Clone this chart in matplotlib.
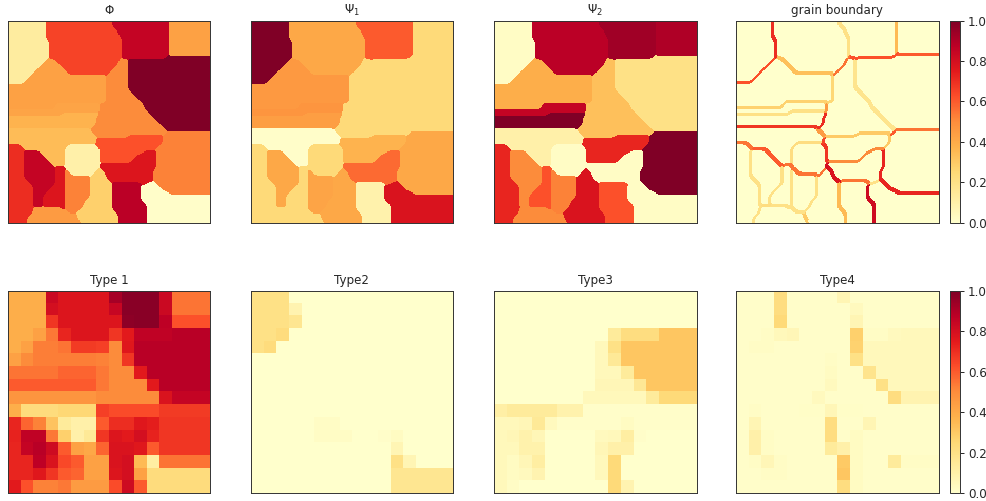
import matplotlib
matplotlib.use("Agg")
import matplotlib.pyplot as plt
import numpy as np
import re

W, H = 987, 501

grains = list("ABCDEFGHIJKLMNOPQRSTUV")
phi  = [.125,.65,.85,.43,1.0,.43,.42,.37,.34,.10,.52,.62,.77,.875,.01,.70,.85,.77,.52,.45,.28,.50]
psi1 = [1.0,.41,.60,.24,.24,.46,.47,.44,.01,.24,.41,.37,.57,.09,.78,.24,.41,.24,.42,.24,.41,.24]
psi2 = [.02,.875,.93,.90,.20,.39,.85,1.0,.10,.02,1.0,.72,.02,.62,.02,.72,.50,.62,.52,.50,.78,.33]

# grain id map, one row per line: letter + column where the run ends
grain_rows = [
"A12 B33 C51 D64","A12 B33 C51 D64","A12 B34 C51 D64","A12 B35 C51 D64","A12 B35 C51 D64","A12 B36 C51 D64",
"A13 B36 C51 D64","A13 B36 C51 D64","A13 B36 C51 D64","A13 B36 C51 D64","A13 B36 C51 D64","A13 B36 C50 E64",
"A12 F15 B35 V38 E64","A11 F16 B35 V38 E64","A10 F17 B34 V38 E64","A9 F18 B33 V38 E64","A8 F19 B32 V38 E64",
"A7 F31 V38 E64","A6 F31 V38 E64","A5 F31 V38 E64","F31 V38 E64","F31 V38 E64","F31 V39 E64","F31 V40 E64",
"F31 V41 E64","F31 V42 E64","F15 G29 V43 E64","F15 G29 V43 E64","G29 V44 E64","G17 H29 V45 E64",
"H28 V46 E64","H28 V47 E64","H28 V48 E64","H27 V49 E64","I26 V50 E64","I27 V50 K64","I28 V38 L49 K64",
"I28 L49 K64","I28 L49 K64","P4 I19 J28 L48 K64","P5 I18 J29 L47 K64",
"P5 Q10 I18 J29 L43 M47 K64","P5 Q11 I18 J29 L41 M47 K64","P5 Q12 I18 J29 L40 M47 K64",
"P5 Q13 I18 J29 L39 M47 K64","P5 Q14 I18 J29 M47 K64","P5 Q15 R18 J29 M47 K64",
"P5 Q15 R18 S19 J28 U30 M46 K64","P5 Q15 R18 S20 J27 U31 M46 K64","P5 Q15 R18 S26 U31 M46 K64",
"P6 Q15 R18 S26 U32 M46 K64","P7 Q15 R18 S26 U33 N42 M44 O47 K64","P8 Q14 R18 S26 U33 N42 O48 K64",
"P8 Q13 R18 S26 U33 N42 O49 K64","P8 Q12 R18 S26 U33 N42 O51 K64","P8 Q11 R18 S26 U33 N42 O64",
"P8 Q11 R18 S25 U33 N42 O64","P8 Q11 R18 S24 U33 N43 O64","P8 Q11 R18 S24 U33 N44 O64",
"P8 T17 R18 S23 U33 N44 O64","P8 T19 S22 U34 N44 O64","P7 T22 U35 N44 O64","P6 T22 U35 N44 O64","P6 T23 U35 N44 O64",
]

# boundary level between neighbouring grains
boundary_levels = {
"AB":.70,"AF":.62,"BC":.20,"BF":.33,"BV":.55,"CD":.35,"CE":.62,"CV":.62,"DE":.60,"EV":.18,"FV":.25,"FG":.27,
"GH":.20,"HI":.68,"GV":.45,"HV":.70,"IV":.45,"IJ":.22,"IL":.65,"JL":.68,"LV":.30,"KV":.60,"EK":.55,"KL":.30,
"LM":.50,"KM":.72,"MN":.55,"MO":.20,"MU":.78,"KO":.72,"NO":.82,"NU":.35,"IP":.55,"IQ":.60,"PQ":.20,"QR":.20,
"PT":.20,"QT":.22,"RS":.20,"RT":.20,"ST":.20,"SU":.20,"TU":.30,"IR":.55,"IS":.55,"JS":.55,"JU":.55,"JR":.55,
"JM":.80,"OU":.3,"NT":.3,"GQ":.2,
}

type1 = [
[.39,.39,.39,.83,.77,.77,.77,.77,.92,.98,.98,.98,.83,.55,.55,.55],
[.39,.39,.39,.80,.77,.77,.77,.77,.84,.98,.98,.98,.83,.55,.55,.55],
[.39,.39,.39,.68,.77,.77,.77,.77,.77,.97,.98,.98,.87,.62,.62,.62],
[.39,.39,.43,.54,.72,.77,.77,.77,.68,.75,.86,.86,.86,.88,.88,.88],
[.39,.43,.53,.53,.55,.67,.67,.66,.50,.76,.88,.88,.88,.88,.88,.88],
[.43,.50,.53,.53,.53,.53,.53,.52,.50,.68,.88,.88,.88,.88,.88,.88],
[.55,.55,.55,.55,.58,.58,.58,.54,.50,.50,.75,.88,.88,.88,.88,.88],
[.60,.60,.60,.60,.60,.60,.60,.54,.50,.50,.50,.75,.88,.88,.88,.88],
[.47,.47,.47,.47,.47,.47,.47,.50,.50,.50,.50,.50,.78,.85,.85,.85],
[.39,.23,.23,.23,.25,.25,.25,.66,.63,.63,.63,.63,.67,.67,.67,.67],
[.72,.58,.52,.32,.14,.10,.10,.60,.70,.70,.76,.74,.68,.68,.68,.68],
[.73,.86,.86,.54,.28,.10,.15,.68,.77,.75,.80,.73,.68,.68,.68,.68],
[.72,.85,.88,.82,.60,.43,.41,.58,.78,.78,.76,.60,.68,.68,.68,.68],
[.72,.72,.87,.78,.64,.60,.43,.43,.78,.80,.35,.12,.55,.55,.55,.55],
[.72,.72,.76,.68,.60,.58,.43,.43,.77,.80,.43,.23,.23,.23,.23,.23],
[.75,.62,.52,.52,.54,.45,.45,.45,.63,.82,.60,.23,.23,.23,.23,.23],
]
type2 = [
[.20,.20,.20,0,0,0,0,0,0,0,0,0,0,0,0,0],
[.20,.20,.20,.08,0,0,0,0,0,0,0,0,0,0,0,0],
[.20,.20,.20,.17,0,0,0,0,0,0,0,0,0,0,0,0],
[.20,.20,.23,0,0,0,0,0,0,0,0,0,0,0,0,0],
[.20,.23,0,0,0,0,0,0,0,0,0,0,0,0,0,0],
[0]*16,[0]*16,[0]*16,[0]*16,[0]*16,
[0,0,0,0,0,.02,.02,0,0,0,0,0,0,0,0,0],
[0,0,0,0,0,.02,.02,.02,0,0,.01,.03,0,0,0,0],
[0,0,0,0,0,0,0,0,0,0,0,.07,0,0,0,0],
[0,0,0,0,0,0,0,0,0,0,0,.20,.07,0,0,0],
[0,0,0,0,0,0,0,0,0,0,0,.17,.17,.17,.17,.17],
[0,0,0,0,0,0,0,0,0,0,0,.17,.17,.17,.17,.17],
]
type3 = [
[0]*16,[0]*16,[0]*16,
[0,0,0,0,0,0,0,0,0,.14,.22,.22,.22,.31,.31,.31],
[0,0,0,0,0,0,0,0,.05,.20,.31,.31,.31,.31,.31,.31],
[0,0,0,0,0,0,0,0,.05,.15,.31,.31,.31,.31,.31,.31],
[0,0,0,0,0,0,0,0,.05,.05,.14,.31,.31,.31,.31,.31],
[0,0,0,0,0,0,0,0,.06,.06,.06,.16,.31,.31,.31,.31],
[0,0,0,0,0,0,0,.05,.05,.05,.05,.05,.14,.24,.24,.24],
[.11,.14,.14,.14,.14,.09,.09,.01,.01,.01,.01,.01,.01,.01,.01,.01],
[.05,.05,.06,.15,.04,.01,.01,.01,.01,.01,.03,.01,.01,.01,.01,.01],
[.05,.06,.09,.06,0,0,0,0,.04,.05,.12,.01,0,0,0,0],
[.05,.05,.09,.09,0,0,0,0,.06,.10,.10,0,0,0,0,0],
[.05,.03,.06,.12,0,0,0,0,.05,.24,0,0,0,0,0,0],
[.05,.03,.04,.08,0,0,0,0,.05,.24,0,0,0,0,0,0],
[.05,.02,0,0,0,0,0,0,0,.24,.08,0,0,0,0,0],
]
type4 = [
[.01,.01,.01,.22,.01,.01,.01,.01,.07,.01,.01,.01,.01,.01,.01,.01],
[.01,.01,.01,.22,.01,.01,.01,.01,.01,.04,.01,.01,.01,.01,.01,.01],
[.01,.01,.01,.24,.01,.01,.01,.01,.01,.07,.01,.01,.01,.01,.01,.01],
[.01,.01,.02,.05,.06,.01,.01,.01,.01,.28,.02,.02,.04,.05,.05,.05],
[.01,.02,.02,.01,.01,.01,.01,.01,.01,.27,.05,.05,.05,.05,.05,.05],
[.01,.01,.01,.01,.01,.01,.01,.02,.01,.20,.05,.05,.05,.05,.05,.05],
[.01,.01,.01,.01,.01,.01,.01,.03,.01,.01,.18,.05,.05,.05,.05,.05],
[.01,.01,.01,.01,.01,.01,.01,.04,.01,.01,.01,.20,.05,.05,.05,.05],
[.01,.01,.01,.01,.01,.01,.04,.01,.01,.01,.01,.01,.22,.08,.08,.08],
[.01,.02,.01,.01,.01,.015,.015,.06,.015,.015,.01,.01,.01,.01,.01,.01],
[.01,.07,.01,.01,.01,.01,.01,.22,.01,.01,.07,.01,.01,.01,.01,.01],
[.01,.10,.02,.01,.01,.01,.01,.22,.01,.03,.01,.01,.01,.01,.01,.01],
[.01,.10,.02,.01,.01,.01,.01,.14,.10,.03,.01,.01,.01,.01,.01,.01],
[.01,.02,.06,.02,.01,.01,.01,.01,.30,.03,.01,.01,.14,.02,.02,.02],
[.01,.01,.02,.02,.01,.01,.01,.01,.31,.03,.01,.01,.01,.01,.01,.01],
[.01,.01,.01,.01,.01,.01,.01,.01,.22,.03,.01,.01,.01,.01,.01,.01],
]

titles_top = [r"$\Phi$", r"$\Psi_1$", r"$\Psi_2$", "grain boundary"]
titles_bottom = ["Type 1", "Type2", "Type3", "Type4"]
cbar_ticks = [0.0, 0.2, 0.4, 0.6, 0.8, 1.0]


def expand(rows):
    out = []
    for row in rows:
        line, start = "", 0
        for letter, end in re.findall(r"([A-Z])(\d+)", row):
            line += letter * (int(end) - start)
            start = int(end)
        out.append(line)
    return out


idx = {g: i for i, g in enumerate(grains)}
coarse = np.array([[idx[c] for c in line] for line in expand(grain_rows)])

# refine the 64-cell map 3x and round its staircases by a local majority vote
F = 3
fine = np.kron(coarse, np.ones((F, F), dtype=int))
n = fine.shape[0]
votes = np.zeros((len(grains), n, n))
pad = 2
for g in range(len(grains)):
    m = np.pad((fine == g).astype(float), pad, mode="edge")
    for axis in (0, 1):
        m = sum(np.roll(m, s, axis=axis) for s in range(-pad, pad + 1))
    votes[g] = m[pad:-pad, pad:-pad]
labels = votes.argmax(axis=0)


def level(a, b):
    return boundary_levels.get("".join(sorted(grains[a] + grains[b])), 0.3)


gb = np.zeros((n, n))
step = 3
for r in range(n):
    for c in range(n):
        here = labels[r, c]
        if c + step < n and labels[r, c + step] != here:
            gb[r, c] = max(gb[r, c], level(here, labels[r, c + step]))
        if r + step < n and labels[r + step, c] != here:
            gb[r, c] = max(gb[r, c], level(here, labels[r + step, c]))

top = [np.array(phi)[labels], np.array(psi1)[labels], np.array(psi2)[labels], gb]
bottom = [np.array(type1), np.array(type2), np.array(type3), np.array(type4)]

fig = plt.figure(figsize=(W / 100, H / 100), dpi=100)


def box(x0, x1, y0, y1):
    return [x0 / W, 1 - y1 / H, (x1 - x0) / W, (y1 - y0) / H]


xs = [(8.3, 210), (250.6, 453), (494, 696.7), (736, 938.7)]
ys = [(20.6, 222.6), (290.7, 493.3)]
for (y0, y1), data, titles in zip(ys, [top, bottom], [titles_top, titles_bottom]):
    for (x0, x1), arr, title in zip(xs, data, titles):
        ax = fig.add_axes(box(x0, x1, y0, y1))
        im = ax.imshow(arr, cmap="YlOrRd", vmin=0, vmax=1, interpolation="nearest", aspect="auto")
        ax.set_xticks([])
        ax.set_yticks([])
        ax.set_title(title, fontsize=8.6, pad=4.5, color="#262626")
        for s in ax.spines.values():
            s.set_linewidth(0.7)
            s.set_color("#333333")
    cax = fig.add_axes(box(949.7, 959.7, y0, y1))
    cb = fig.colorbar(im, cax=cax)
    cb.set_ticks(cbar_ticks)
    cb.ax.tick_params(labelsize=8.6, length=3, width=0.7, pad=3, colors="#262626")
    cb.outline.set_linewidth(0.7)
    cb.outline.set_edgecolor("#333333")

fig.savefig("out.png", dpi=100)
